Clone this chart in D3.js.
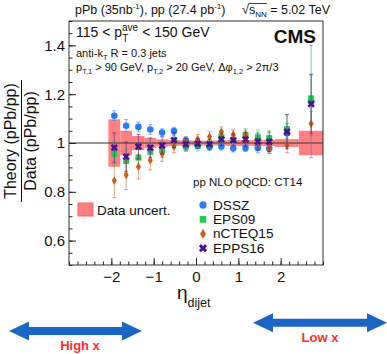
<!DOCTYPE html>
<html><head><meta charset="utf-8">
<script src="https://cdn.jsdelivr.net/npm/d3@7"></script>
<style>body{margin:0;background:#fff}svg{display:block;font-family:"Liberation Sans",Arial,sans-serif}</style>
</head><body><svg id="c" width="387" height="354"></svg>
<script>
// ---- data ----
const etaCenters = [-1.93,-1.65,-1.36,-1.08,-0.80,-0.52,-0.24,0.04,0.32,0.60,0.88,1.17,1.46,1.73,2.15,2.72];
const binLo = [-2.07,-1.79,-1.51,-1.22,-0.94,-0.66,-0.38,-0.10,0.18,0.46,0.74,1.02,1.31,1.59,1.87,2.43];
const binHi = [-1.79,-1.51,-1.22,-0.94,-0.66,-0.38,-0.10,0.18,0.46,0.74,1.02,1.31,1.59,1.87,2.43,3.00];
const dataUnc = [0.097,0.05,0.029,0.021,0.015,0.012,0.011,0.01,0.01,0.011,0.012,0.012,0.012,0.013,0.016,0.05];

const dssz    = [1.112,1.071,1.066,1.055,1.043,1.049,1.010,0.993,0.985,0.986,0.978,0.980,0.980,0.977,1.040,1.170];
const dsszErr = [0.02,0.025,0.02,0.02,0.015,0.015,0.015,0.015,0.015,0.015,0.015,0.015,0.02,0.02,0.04,0.23];
const eps09    = [0.955,0.926,0.940,0.964,0.970,1.005,0.985,0.988,0.990,1.025,1.008,1.033,1.023,1.020,1.057,1.183];
const eps09Err = [0.05,0.05,0.04,0.035,0.03,0.025,0.02,0.02,0.02,0.025,0.025,0.025,0.03,0.03,0.06,0.10];
const ncteq    = [0.846,0.869,0.903,0.929,0.955,0.985,1.005,1.015,1.026,1.046,1.034,1.033,1.000,0.978,0.990,1.079];
const ncteqErr = [0.07,0.06,0.05,0.04,0.03,0.025,0.02,0.02,0.02,0.02,0.02,0.02,0.02,0.02,0.03,0.05];
const epps16    = [0.981,0.944,0.985,0.981,0.990,1.012,0.995,0.997,0.995,1.015,1.012,1.015,1.006,1.005,1.046,1.160];
const epps16Err = [0.06,0.06,0.05,0.04,0.035,0.03,0.025,0.02,0.02,0.025,0.025,0.03,0.035,0.04,0.07,0.12];

const xMajor = [-2,-1,0,1,2];
const yMajor = [0.6,0.8,1.0,1.2,1.4];
const seriesNames = ["DSSZ","EPS09","nCTEQ15","EPPS16"];

// ---- drawing ----
const svg = d3.select("#c");
const x = d3.scaleLinear().domain([-3,3]).range([69,323]);
const y = d3.scaleLinear().domain([0.5,1.5]).range([265,21]);

const colors = {DSSZ:"#2a7cf2", EPS09:"#1fcf50", nCTEQ15:"#c8601a", EPPS16:"#4a1090"};
const symbols = {DSSZ:d3.symbolCircle, EPS09:d3.symbolSquare, nCTEQ15:d3.symbolDiamond, EPPS16:d3.symbolCross};
const sizes = {DSSZ:34, EPS09:36, nCTEQ15:22, EPPS16:34};
const rot = {DSSZ:0, EPS09:0, nCTEQ15:0, EPPS16:45};

// data uncertainty boxes
svg.append("g").selectAll("rect").data(etaCenters).join("rect")
  .attr("x",(d,i)=>x(binLo[i])).attr("width",(d,i)=>x(binHi[i])-x(binLo[i]))
  .attr("y",(d,i)=>y(1+dataUnc[i])).attr("height",(d,i)=>y(1-dataUnc[i])-y(1+dataUnc[i]))
  .attr("fill","#ff8080");

// line at 1
svg.append("line").attr("x1",x(-3)).attr("x2",x(3)).attr("y1",y(1)).attr("y2",y(1))
  .attr("stroke","#333").attr("stroke-width",1.2);

const series = [
  {name:"DSSZ", v:dssz, e:dsszErr},
  {name:"EPS09", v:eps09, e:eps09Err},
  {name:"nCTEQ15", v:ncteq, e:ncteqErr},
  {name:"EPPS16", v:epps16, e:epps16Err}
];
series.forEach(s=>{
  const g = svg.append("g");
  const c = colors[s.name];
  const eb = g.append("g").attr("stroke",c).attr("stroke-opacity",0.55).attr("stroke-width",1);
  s.v.forEach((v,i)=>{
    const cx = x(etaCenters[i]);
    eb.append("line").attr("x1",cx).attr("x2",cx).attr("y1",y(v+s.e[i])).attr("y2",y(v-s.e[i]));
    eb.append("line").attr("x1",cx-2).attr("x2",cx+2).attr("y1",y(v+s.e[i])).attr("y2",y(v+s.e[i]));
    eb.append("line").attr("x1",cx-2).attr("x2",cx+2).attr("y1",y(v-s.e[i])).attr("y2",y(v-s.e[i]));
  });
  g.selectAll("path.m").data(s.v).join("path").attr("class","m")
    .attr("d",d3.symbol().type(symbols[s.name]).size(sizes[s.name]))
    .attr("transform",(v,i)=>`translate(${x(etaCenters[i])},${y(v)}) rotate(${rot[s.name]})`)
    .attr("fill",c);
});

// axes
const yAxMaj = d3.axisLeft(y).tickValues(yMajor).tickSize(-7).tickPadding(4).tickFormat(d3.format(""));
const yAxMin = d3.axisLeft(y).tickValues(d3.range(0.5,1.5001,0.05)).tickSize(-3.5).tickFormat("");
const xAxMaj = d3.axisBottom(x).tickValues(xMajor).tickSize(-7).tickPadding(6).tickFormat(d3.format(""));
const xAxMin = d3.axisBottom(x).tickValues(d3.range(-3,3.001,0.2)).tickSize(-3.5).tickFormat("");
function style(g){ g.select(".domain").remove(); g.selectAll("line").attr("stroke","#222");
  g.selectAll("text").attr("font-size",15).attr("fill","#111").attr("font-family","Liberation Sans, Arial, sans-serif"); }
svg.append("g").attr("transform","translate(69,0)").call(yAxMin).call(style);
svg.append("g").attr("transform","translate(69,0)").call(yAxMaj).call(style);
svg.append("g").attr("transform","translate(0,265)").call(xAxMin).call(style);
svg.append("g").attr("transform","translate(0,265)").call(xAxMaj).call(style);
svg.selectAll(".tick text").attr("font-size",15);

// frame
svg.append("rect").attr("x",69).attr("y",21).attr("width",254).attr("height",244)
  .attr("fill","none").attr("stroke","#333").attr("stroke-width",1);

// header
const h = svg.append("text").attr("x",75).attr("y",14).attr("font-size",12.5).attr("fill","#111");
h.append("tspan").text("pPb (35nb");
h.append("tspan").attr("font-size",8).attr("dy",-5).text("-1");
h.append("tspan").attr("dy",5).text("), pp (27.4 pb");
h.append("tspan").attr("font-size",8).attr("dy",-5).text("-1");
h.append("tspan").attr("dy",5).text(")");
const rs = svg.append("text").attr("x",242).attr("y",14).attr("font-size",12.5).attr("fill","#111");
rs.append("tspan").text("√");
rs.append("tspan").text("s");
rs.append("tspan").attr("font-size",8).attr("dy",3).text("NN");
rs.append("tspan").attr("dy",-3).text(" = 5.02 TeV");
svg.append("line").attr("x1",248.5).attr("x2",267).attr("y1",3.5).attr("y2",3.5).attr("stroke","#111").attr("stroke-width",0.8);

// inside labels
const pt = svg.append("text").attr("x",76).attr("y",37).attr("font-size",14).attr("fill","#111");
pt.append("tspan").text("115 < p");
pt.append("tspan").attr("font-size",10).attr("dy",-6).text("ave");
pt.append("tspan").attr("font-size",10).attr("dx",-16).attr("dy",11).text("T");
pt.append("tspan").attr("dx",10).attr("dy",-5).text(" < 150 GeV");
svg.append("text").attr("x",316).attr("y",43).attr("text-anchor","end").attr("font-size",19)
  .attr("font-weight","bold").attr("fill","#111").text("CMS");
const ak = svg.append("text").attr("x",76).attr("y",57).attr("font-size",11).attr("fill","#111");
ak.append("tspan").text("anti-k");
ak.append("tspan").attr("font-size",7.5).attr("dy",3).text("T");
ak.append("tspan").attr("dy",-3).text(" R = 0.3 jets");
const cu = svg.append("text").attr("x",76).attr("y",71).attr("font-size",11).attr("fill","#111");
cu.append("tspan").text("p");
cu.append("tspan").attr("font-size",7.5).attr("dy",3).text("T,1");
cu.append("tspan").attr("dy",-3).text(" > 90 GeV, p");
cu.append("tspan").attr("font-size",7.5).attr("dy",3).text("T,2");
cu.append("tspan").attr("dy",-3).text(" > 20 GeV, Δφ");
cu.append("tspan").attr("font-size",7.5).attr("dy",3).text("1,2");
cu.append("tspan").attr("dy",-3).text(" > 2π/3");

svg.append("text").attr("x",193).attr("y",186).attr("font-size",11.5).attr("fill","#111").text("pp NLO pQCD: CT14");

// legend
svg.append("rect").attr("x",78).attr("y",203).attr("width",15).attr("height",13)
  .attr("fill","#ff8080").attr("stroke","#ff6060");
svg.append("text").attr("x",97).attr("y",215).attr("font-size",13.5).attr("fill","#111").text("Data uncert.");
seriesNames.forEach((n,i)=>{
  const ly = 205 + i*14.4;
  svg.append("path").attr("d",d3.symbol().type(symbols[n]).size(sizes[n]+8))
    .attr("transform",`translate(203,${ly}) rotate(${rot[n]})`).attr("fill",colors[n]);
  svg.append("text").attr("x",213).attr("y",ly+4.5).attr("font-size",13.6).attr("fill","#111").text(n);
});

// y title fraction
const yt = svg.append("g").attr("transform","translate(0,141) rotate(-90)");
yt.append("text").attr("x",0).attr("y",16).attr("text-anchor","middle").attr("font-size",16).attr("fill","#111").text("Theory (pPb/pp)");
yt.append("line").attr("x1",-61).attr("x2",61).attr("y1",21.5).attr("y2",21.5).attr("stroke","#111").attr("stroke-width",1);
yt.append("text").attr("x",0).attr("y",35.5).attr("text-anchor","middle").attr("font-size",16).attr("fill","#111").text("Data (pPb/pp)");

// x title
const xt = svg.append("text").attr("x",177).attr("y",299).attr("font-size",19).attr("fill","#111");
xt.append("tspan").text("η");
xt.append("tspan").attr("font-size",12.5).attr("dy",8).text("dijet");

// arrows
function dblArrow(x1,x2,cy){
  const hl=20, hh=9.5, sh=4;
  const p = d3.path();
  p.moveTo(x1,cy); p.lineTo(x1+hl,cy-hh); p.lineTo(x1+hl,cy-sh); p.lineTo(x2-hl,cy-sh);
  p.lineTo(x2-hl,cy-hh); p.lineTo(x2,cy); p.lineTo(x2-hl,cy+hh); p.lineTo(x2-hl,cy+sh);
  p.lineTo(x1+hl,cy+sh); p.lineTo(x1+hl,cy+hh); p.closePath();
  svg.append("path").attr("d",p.toString()).attr("fill","#1a66c2");
}
dblArrow(9,142,331);
dblArrow(253,387,322.7);
svg.append("text").attr("x",80).attr("y",350).attr("text-anchor","middle").attr("font-size",13)
  .attr("font-weight","bold").attr("fill","#ff2b2b").text("High x");
svg.append("text").attr("x",320).attr("y",342).attr("text-anchor","middle").attr("font-size",13)
  .attr("font-weight","bold").attr("fill","#ff2b2b").text("Low x");
</script></body></html>
